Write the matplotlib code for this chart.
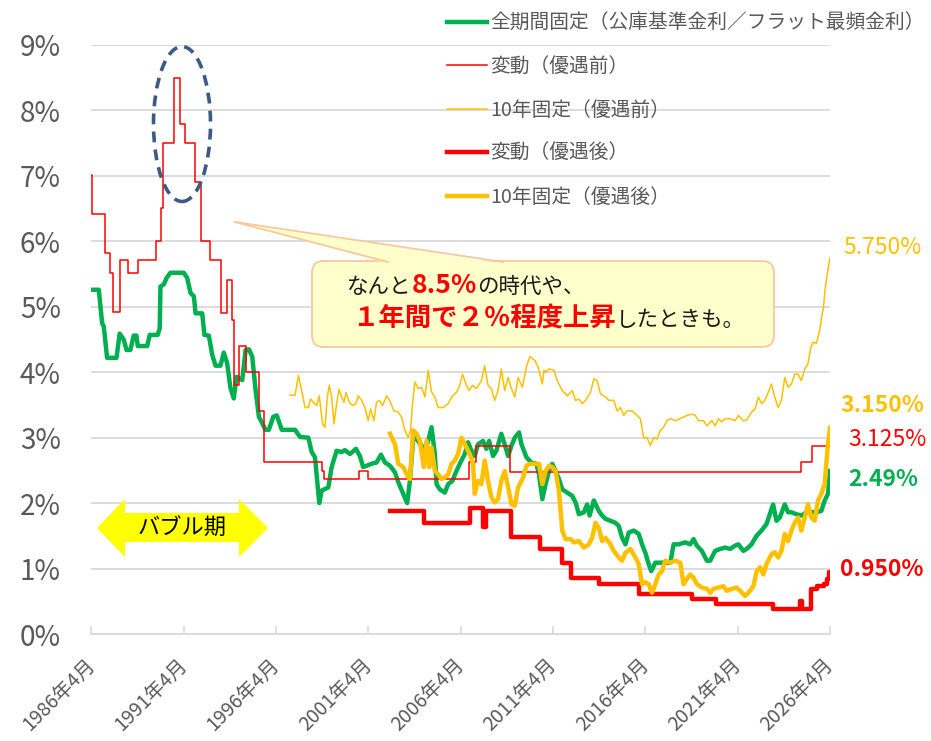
import matplotlib
matplotlib.use('Agg')
import matplotlib.pyplot as plt
from matplotlib.patches import FancyBboxPatch, Polygon, Ellipse
from matplotlib.transforms import IdentityTransform

plt.rcParams['font.family'] = ['Noto Sans CJK JP', 'DejaVu Sans']

W, H = 931, 741

# 全期間固定（公庫基準金利／フラット最頻金利）
fix_year = [1986.25, 1986.65, 1986.83, 1986.92, 1987.10, 1987.61, 1987.78, 1988.0, 1988.15, 1988.36,
            1988.54, 1988.69, 1988.76, 1989.27, 1989.41, 1989.84, 1989.95, 1989.99, 1990.17, 1990.32,
            1990.53, 1991.25, 1991.44, 1991.62, 1991.80, 1991.89, 1992.25, 1992.37, 1992.61, 1992.79,
            1992.97, 1993.24, 1993.42, 1993.60, 1993.78, 1993.96, 1994.11, 1994.23, 1994.42, 1994.60,
            1994.78, 1994.96, 1995.14, 1995.32, 1995.50, 1995.68, 1995.86, 1996.10, 1996.29, 1996.56,
            1997.28, 1997.55, 1998.0, 1998.18, 1998.36, 1998.59, 1998.72, 1999.08, 1999.26, 1999.53,
            1999.80, 1999.98, 2000.25, 2000.58, 2000.79, 2000.97, 2001.15, 2001.51, 2001.69, 2001.93,
            2002.15, 2002.42, 2002.69, 2002.87, 2003.14, 2003.35, 2003.5, 2003.68, 2003.86, 2004.13,
            2004.31, 2004.49, 2004.67, 2004.85, 2004.94, 2005.12, 2005.39, 2005.57, 2005.8, 2006.02,
            2006.2, 2006.47, 2006.65, 2006.83, 2007.01, 2007.19, 2007.46, 2007.64, 2007.79, 2008.0,
            2008.18, 2008.45, 2008.63, 2008.82, 2009.0, 2009.18, 2009.41, 2009.54, 2009.81, 2010.08,
            2010.35, 2010.49, 2010.67, 2010.85, 2011.03, 2011.21, 2011.39, 2011.57, 2011.75, 2012.02,
            2012.29, 2012.47, 2012.65, 2012.92, 2013.1, 2013.23, 2013.46, 2013.73, 2013.91, 2014.09,
            2014.36, 2014.63, 2014.81, 2014.99, 2015.17, 2015.35, 2015.62, 2015.89, 2016.07, 2016.25,
            2016.43, 2016.57, 2016.79, 2017.06, 2017.33, 2017.6, 2017.78, 2018.05, 2018.41, 2018.68,
            2018.86, 2019.04, 2019.31, 2019.58, 2019.76, 2020.03, 2020.3, 2020.57, 2020.84, 2021.11,
            2021.29, 2021.56, 2021.74, 2022.0, 2022.27, 2022.54, 2022.81, 2022.99, 2023.17, 2023.35,
            2023.53, 2023.8, 2023.98, 2024.16, 2024.43, 2024.7, 2024.97, 2025.24, 2025.51, 2025.78,
            2025.96, 2026.14, 2026.25]
fix_rate = [5.26, 5.26, 4.75, 4.70, 4.22, 4.22, 4.59, 4.50, 4.34, 4.34,
            4.56, 4.56, 4.40, 4.40, 4.57, 4.57, 4.67, 5.31, 5.34, 5.44,
            5.52, 5.52, 5.44, 5.21, 5.16, 4.90, 4.90, 4.57, 4.56, 4.27,
            4.10, 4.10, 4.30, 4.14, 3.76, 3.60, 3.93, 3.91, 3.88, 4.34,
            4.35, 4.24, 3.73, 3.32, 3.22, 3.12, 3.12, 3.32, 3.34, 3.12,
            3.12, 3.01, 3.00, 2.78, 2.70, 2.00, 2.19, 2.24, 2.55, 2.80,
            2.78, 2.81, 2.75, 2.83, 2.72, 2.55, 2.57, 2.61, 2.62, 2.74,
            2.62, 2.57, 2.47, 2.32, 2.14, 2.00, 2.34, 3.00, 2.98, 2.88,
            2.80, 2.95, 3.16, 2.75, 2.29, 2.21, 2.16, 2.29, 2.34, 2.49,
            2.60, 2.75, 2.93, 2.80, 2.72, 2.90, 2.95, 2.83, 2.95, 2.72,
            2.80, 3.06, 2.90, 2.72, 2.88, 3.00, 3.08, 2.90, 2.70, 2.62,
            2.60, 2.44, 2.06, 2.29, 2.49, 2.60, 2.49, 2.37, 2.21, 2.16,
            2.11, 2.01, 1.83, 1.86, 1.98, 1.81, 2.04, 1.88, 1.81, 1.76,
            1.73, 1.70, 1.65, 1.47, 1.37, 1.55, 1.58, 1.53, 1.37, 1.24,
            1.07, 0.96, 1.09, 1.09, 1.09, 1.09, 1.37, 1.37, 1.40, 1.37,
            1.45, 1.35, 1.27, 1.12, 1.12, 1.27, 1.30, 1.32, 1.30, 1.35,
            1.37, 1.27, 1.30, 1.37, 1.50, 1.58, 1.68, 1.83, 1.98, 1.73,
            1.78, 1.98, 1.86, 1.86, 1.83, 1.81, 1.86, 1.86, 1.86, 1.88,
            2.04, 2.14, 2.49]

# 変動（優遇前） 変更時点
var_pre_year = [1986.25, 1986.30, 1987.0, 1987.28, 1987.40, 1987.80, 1988.24, 1988.75, 1989.75, 1990.0,
                1990.15, 1990.75, 1991.05, 1991.30, 1991.85, 1992.2, 1992.7, 1993.25, 1993.60, 1993.85,
                1993.95, 1994.25, 1994.60, 1995.35, 1995.6, 1998.72, 1998.85, 2000.75, 2001.25, 2006.70,
                2007.10, 2008.90, 2024.70, 2025.25, 2026.25]
var_pre_rate = [7.02, 6.42, 5.82, 5.52, 4.92, 5.72, 5.52, 5.72, 6.00, 6.51,
                7.50, 8.50, 7.80, 7.50, 6.90, 6.00, 5.72, 4.91, 5.41, 4.80,
                3.80, 4.40, 4.00, 3.40, 2.625, 2.49, 2.375, 2.49, 2.375, 2.625,
                2.875, 2.475, 2.625, 2.875, 2.875]

# 10年固定（優遇前）
ten_pre_year = [1997.01, 1997.28, 1997.46, 1997.64, 1997.82, 1998.0, 1998.12, 1998.27, 1998.45, 1998.59,
                1998.77, 1998.9, 1999.03, 1999.13, 1999.26, 1999.39, 1999.53, 1999.66, 1999.8, 1999.93,
                2000.04, 2000.22, 2000.4, 2000.58, 2000.7, 2000.88, 2001.06, 2001.24, 2001.37, 2001.55,
                2001.69, 2001.84, 2002.02, 2002.24, 2002.45, 2002.63, 2002.87, 2003.05, 2003.23, 2003.41,
                2003.53, 2003.64, 2003.77, 2003.95, 2004.13, 2004.31, 2004.49, 2004.67, 2004.85, 2005.03,
                2005.3, 2005.57, 2005.8, 2006.02, 2006.2, 2006.35, 2006.53, 2006.71, 2006.89, 2007.1,
                2007.37, 2007.55, 2007.73, 2007.91, 2008.09, 2008.27, 2008.45, 2008.63, 2008.82, 2009.0,
                2009.18, 2009.36, 2009.59, 2009.81, 2009.99, 2010.26, 2010.44, 2010.67, 2010.76, 2010.85,
                2011.03, 2011.3, 2011.48, 2011.75, 2012.02, 2012.29, 2012.47, 2012.65, 2012.83, 2013.01,
                2013.28, 2013.46, 2013.64, 2013.82, 2014.09, 2014.27, 2014.54, 2014.72, 2014.9, 2015.08,
                2015.26, 2015.53, 2015.8, 2015.98, 2016.16, 2016.34, 2016.52, 2016.7, 2016.88, 2017.06,
                2017.24, 2017.42, 2017.6, 2017.87, 2018.14, 2018.5, 2018.77, 2018.95, 2019.13, 2019.4,
                2019.58, 2019.85, 2020.03, 2020.21, 2020.39, 2020.57, 2020.84, 2021.11, 2021.29, 2021.56,
                2021.74, 2022.0, 2022.19, 2022.37, 2022.55, 2022.72, 2022.9, 2023.08, 2023.26, 2023.44,
                2023.62, 2023.8, 2023.98, 2024.16, 2024.34, 2024.52, 2024.7, 2024.88, 2025.06, 2025.21,
                2025.33, 2025.51, 2025.69, 2025.8, 2025.9, 2025.98, 2026.14, 2026.25]
ten_pre_rate = [3.65, 3.65, 3.95, 3.72, 3.46, 3.46, 3.59, 3.54, 3.49, 3.64,
                3.21, 3.16, 3.62, 3.80, 3.62, 3.21, 3.52, 3.74, 3.62, 3.54,
                3.69, 3.54, 3.49, 3.52, 3.64, 3.57, 3.46, 3.26, 3.44, 3.26,
                3.54, 3.57, 3.49, 3.64, 3.54, 3.41, 3.39, 3.31, 3.11, 3.00,
                3.11, 3.52, 3.85, 3.75, 3.77, 3.62, 4.03, 3.70, 3.62, 3.46,
                3.46, 3.52, 3.64, 3.69, 3.80, 3.97, 3.82, 3.72, 3.80, 3.75,
                3.87, 4.10, 3.80, 3.75, 3.57, 3.72, 4.05, 3.72, 3.92, 3.75,
                3.62, 3.92, 3.77, 4.08, 4.24, 4.18, 4.08, 3.82, 4.03, 4.00,
                4.05, 4.03, 3.87, 3.72, 3.64, 3.72, 3.57, 3.59, 3.52, 3.57,
                3.69, 3.90, 3.87, 3.67, 3.62, 3.57, 3.57, 3.41, 3.46, 3.34,
                3.41, 3.41, 3.34, 3.29, 3.00, 3.00, 2.88, 3.00, 2.98, 3.11,
                3.16, 3.26, 3.29, 3.26, 3.29, 3.34, 3.36, 3.34, 3.26, 3.26,
                3.18, 3.26, 3.18, 3.29, 3.24, 3.29, 3.29, 3.26, 3.34, 3.26,
                3.27, 3.39, 3.44, 3.62, 3.52, 3.57, 3.69, 3.82, 3.62, 3.46,
                3.57, 3.92, 3.77, 3.82, 3.97, 3.97, 3.87, 4.05, 4.13, 4.38,
                4.46, 4.44, 4.64, 4.85, 5.00, 5.26, 5.57, 5.75]

# 変動（優遇後） 変更時点
var_post_year = [2002.42, 2004.25, 2006.77, 2007.45, 2007.6, 2008.95, 2010.55, 2011.75, 2012.25, 2013.73,
                 2015.89, 2018.77, 2020.1, 2023.17, 2024.6, 2024.72, 2025.22, 2025.55, 2025.9, 2026.1,
                 2026.2, 2026.25]
var_post_rate = [1.875, 1.69, 1.93, 1.63, 1.875, 1.475, 1.30, 1.09, 0.86, 0.76,
                 0.61, 0.53, 0.46, 0.38, 0.50, 0.375, 0.68, 0.73, 0.76, 0.84,
                 0.95, 0.95]

# 10年固定（優遇後）
ten_post_year = [2002.42, 2002.69, 2002.87, 2003.14, 2003.41, 2003.5, 2003.68, 2003.86, 2004.04, 2004.25,
                 2004.4, 2004.54, 2004.67, 2004.85, 2005.03, 2005.21, 2005.39, 2005.57, 2005.75, 2005.93,
                 2006.11, 2006.29, 2006.47, 2006.74, 2006.92, 2007.01, 2007.19, 2007.37, 2007.55, 2007.73,
                 2007.91, 2008.09, 2008.27, 2008.45, 2008.63, 2008.82, 2009.0, 2009.18, 2009.36, 2009.63,
                 2009.81, 2009.99, 2010.35, 2010.49, 2010.67, 2010.85, 2011.03, 2011.21, 2011.39, 2011.57,
                 2011.75, 2011.93, 2012.2, 2012.38, 2012.65, 2012.92, 2013.19, 2013.37, 2013.55, 2013.73,
                 2013.91, 2014.09, 2014.36, 2014.54, 2014.81, 2014.99, 2015.17, 2015.44, 2015.71, 2015.89,
                 2016.07, 2016.25, 2016.43, 2016.61, 2016.79, 2016.97, 2017.15, 2017.33, 2017.6, 2017.87,
                 2018.14, 2018.32, 2018.5, 2018.68, 2018.86, 2019.04, 2019.31, 2019.58, 2019.76, 2019.94,
                 2020.21, 2020.48, 2020.66, 2020.93, 2021.2, 2021.38, 2021.65, 2021.83, 2022.1, 2022.28,
                 2022.46, 2022.64, 2022.81, 2023.08, 2023.26, 2023.44, 2023.62, 2023.8, 2023.98, 2024.16,
                 2024.34, 2024.52, 2024.7, 2024.88, 2025.06, 2025.24, 2025.42, 2025.6, 2025.78, 2025.96,
                 2026.05, 2026.14, 2026.25]
ten_post_rate = [3.06, 2.90, 2.60, 2.55, 2.39, 2.37, 3.11, 3.06, 2.95, 2.55,
                 2.95, 2.55, 2.85, 2.49, 2.44, 2.37, 2.39, 2.44, 2.60, 2.65,
                 2.75, 3.00, 2.90, 2.75, 2.60, 2.14, 2.34, 2.29, 2.65, 2.34,
                 2.09, 2.01, 2.06, 2.34, 2.49, 2.24, 1.98, 1.96, 2.24, 2.39,
                 2.57, 2.60, 2.60, 2.60, 2.29, 2.49, 2.57, 2.55, 2.49, 2.19,
                 1.58, 1.45, 1.45, 1.40, 1.42, 1.32, 1.37, 1.47, 1.70, 1.62,
                 1.42, 1.47, 1.37, 1.27, 1.17, 1.12, 1.24, 1.30, 1.17, 1.07,
                 0.76, 0.79, 0.76, 0.63, 0.76, 0.91, 0.96, 1.12, 1.09, 1.12,
                 1.09, 0.76, 0.84, 0.91, 0.86, 0.76, 0.71, 0.69, 0.63, 0.69,
                 0.71, 0.73, 0.66, 0.69, 0.71, 0.66, 0.58, 0.63, 0.73, 0.96,
                 1.02, 0.91, 1.07, 1.22, 1.25, 1.17, 1.27, 1.53, 1.42, 1.58,
                 1.70, 1.78, 1.58, 1.78, 1.98, 1.78, 1.73, 2.04, 2.14, 2.29,
                 2.60, 2.90, 3.15]

series_labels = ['全期間固定（公庫基準金利／フラット最頻金利）', '変動（優遇前）', '10年固定（優遇前）',
                 '変動（優遇後）', '10年固定（優遇後）']
xtick_years = [1986, 1991, 1996, 2001, 2006, 2011, 2016, 2021, 2026]
ytick_vals = [0, 1, 2, 3, 4, 5, 6, 7, 8, 9]

GREEN = '#00B050'
RED = '#FF0000'
YELLOW = '#FFC000'
GRAY = '#595959'
GRID = '#D9D9D9'

fig = plt.figure(figsize=(W / 100, H / 100), dpi=100)
ax = fig.add_axes([91.4 / W, 1 - 634 / H, (830 - 91.4) / W, (634 - 45) / H])

ax.plot(fix_year, fix_rate, color=GREEN, lw=3.2, label=series_labels[0], solid_joinstyle='round')
ax.plot(var_pre_year, var_pre_rate, color=RED, lw=1.1, drawstyle='steps-post', label=series_labels[1])
ax.plot(ten_pre_year, ten_pre_rate, color=YELLOW, lw=1.1, label=series_labels[2])
ax.plot(var_post_year, var_post_rate, color=RED, lw=3.2, drawstyle='steps-post', label=series_labels[3])
ax.plot(ten_post_year, ten_post_rate, color=YELLOW, lw=3.2, label=series_labels[4], solid_joinstyle='round')

ax.set_xlim(1986.25, 2026.25)
ax.set_ylim(0, 9)
ax.set_xticks([y + 0.25 for y in xtick_years])
ax.set_xticklabels([f'{y}年4月' for y in xtick_years], rotation=45, ha='right', va='center',
                   rotation_mode='anchor', fontsize=14, color=GRAY)
ax.set_yticks(ytick_vals)
ax.set_yticklabels([f'{v}%' for v in ytick_vals], fontsize=20, color=GRAY)
ax.tick_params(axis='y', length=0, pad=22)
ax.tick_params(axis='x', direction='in', length=6, color=GRID, width=1.2, pad=20)
ax.grid(axis='y', color=GRID, lw=1.3)
ax.set_axisbelow(True)
for s in ['left', 'right', 'top']:
    ax.spines[s].set_visible(False)
ax.spines['bottom'].set_color(GRID)
ax.spines['bottom'].set_linewidth(1.3)

ax.legend(loc='upper left', bbox_to_anchor=(447, H - 13), bbox_transform=IdentityTransform(),
          frameon=False, fontsize=14.2, handlelength=2.03, handletextpad=0.15,
          labelspacing=1.135, borderpad=0, borderaxespad=0, labelcolor=GRAY)

px = IdentityTransform()


def P(x, y):
    return (x, H - y)


# バブル期の矢印
arrow_pts = [P(97, 528), P(125, 499), P(125, 513), P(239, 513), P(239, 499), P(268, 528),
             P(239, 557), P(239, 542), P(125, 542), P(125, 557)]
fig.add_artist(Polygon(arrow_pts, closed=True, facecolor='#FFFF00', edgecolor='none', transform=px))
fig.text(182, H - 528, 'バブル期', transform=px, fontsize=16, ha='center', va='center', color='black')

# 8.5%を囲む楕円
fig.add_artist(Ellipse(P(182, 124), 57, 155, fill=False, edgecolor='#3B5A86', lw=2.6,
                       linestyle=(0, (3, 2)), transform=px))

# 吹き出し
BOX_FC = '#FFFFCC'
BOX_EC = '#F9C89B'
fig.add_artist(FancyBboxPatch(P(312, 347), 462, 86, boxstyle='round,pad=0,rounding_size=12',
                              facecolor=BOX_FC, edgecolor=BOX_EC, lw=1.3, transform=px))
fig.add_artist(Polygon([P(235, 222), P(388, 263.5), P(503, 263.5)], closed=True,
                       facecolor=BOX_FC, edgecolor='none', transform=px))
fig.add_artist(plt.Line2D([235, 388], [H - 222, H - 262], color=BOX_EC, lw=1.3, transform=px))
fig.add_artist(plt.Line2D([235, 503], [H - 222, H - 262], color=BOX_EC, lw=1.3, transform=px))

renderer = fig.canvas.get_renderer()


def rich_line(x, y, parts):
    for s, c, w, size in parts:
        t = fig.text(x, H - y, s, transform=px, fontsize=size, color=c, fontweight=w,
                     ha='left', va='baseline')
        x += t.get_window_extent(renderer=renderer).width


rich_line(347, 293, [('なんと', '#1a1a1a', 'normal', 15.5), ('8.5%', RED, 'bold', 19),
                     ('の時代や、', '#1a1a1a', 'normal', 15.5)])
rich_line(352, 326, [('１年間で２％程度上昇', RED, 'bold', 19), ('したときも。', '#1a1a1a', 'normal', 15.5)])

# 右端の値ラベル
fig.text(843, H - 248, '5.750%', transform=px, fontsize=16.5, color=YELLOW, va='center')
fig.text(840, H - 405, '3.150%', transform=px, fontsize=16.5, color=YELLOW, fontweight='bold', va='center')
fig.text(848, H - 440, '3.125%', transform=px, fontsize=16.5, color=RED, va='center')
fig.text(848, H - 480, '2.49%', transform=px, fontsize=16.5, color=GREEN, fontweight='bold', va='center')
fig.text(840, H - 569, '0.950%', transform=px, fontsize=16.5, color=RED, fontweight='bold', va='center')

fig.savefig('out.png', dpi=100)
